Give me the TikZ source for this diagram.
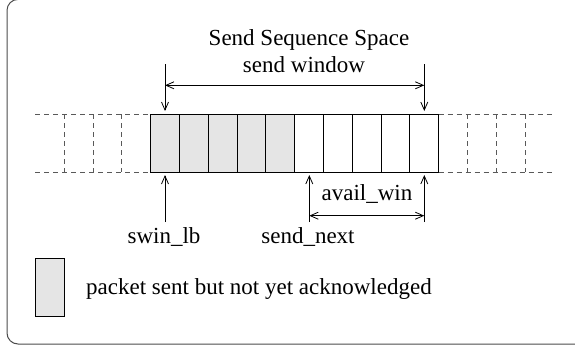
\documentclass[tikz,border=0pt]{standalone}
\usepackage{fontspec}
\setmainfont{Liberation Serif}
\usetikzlibrary{arrows.meta}
\begin{document}
\begin{tikzpicture}[x=1pt,y=-1pt,
  cell/.style={draw, line width=0.9pt, minimum width=28.8pt, minimum height=58pt, inner sep=0pt, outer sep=0pt, anchor=north west},
  sentcell/.style={cell, fill=gray!20},
  dline/.style={dash pattern=on 5pt off 4pt, line width=0.9pt, gray!70!black},
  tip/.tip={Straight Barb[length=8pt,width=7pt]},
  arr/.style={line width=0.8pt, -tip},
  darr/.style={line width=0.8pt, tip-tip},
  lbl/.style={font=\fontsize{23}{28}\selectfont, inner sep=0pt, anchor=base}
]
\useasboundingbox (0,0) rectangle (575,349);
\begin{scope}
\clip (0,0) rectangle (575,349);
\draw[rounded corners=11pt, line width=1pt, gray!60!black] (7,-0.6) rectangle (590,344);
\end{scope}
% cells
\foreach \i in {0,...,4} \node[sentcell] (c\i) at ({150.7+28.8*\i},114) {};
\foreach \i in {5,...,9} \node[cell] (c\i) at ({150.7+28.8*\i},114) {};
% dashed continuation
\coordinate (lt) at (35,114);
\coordinate (lb) at (35,172);
\coordinate (rt) at (554,114);
\coordinate (rb) at (554,172);
\draw[dline] (lt) -- (c0.north west);
\draw[dline] (lb) -- (c0.south west);
\draw[dline] (c9.north east) -- (rt);
\draw[dline] (c9.south east) -- (rb);
\foreach \x in {64.3,93.1,121.9,467.5,496.3,525.1}
  \draw[dline] (\x,114) -- (\x,172);
% labels
\node[lbl] (title) at (309,45) {Send Sequence Space};
\node[lbl] (win) at (304,72.5) {send window};
\node[lbl] (swin) at (164,243.5) {swin\_lb};
\node[lbl] (snext) at (308,243.5) {send\_next};
\node[lbl] (avail) at (367,200.5) {avail\_win};
\node[lbl, anchor=base west] (legtext) at (86,294) {packet sent but not yet acknowledged};
\node[draw, line width=0.9pt, fill=gray!20, minimum width=29.3pt, minimum height=57.7pt, inner sep=0pt, anchor=north west] (legbox) at (35,258.3) {};
% send window arrows
\coordinate (wla) at (165,64);
\coordinate (wlb) at (165,111);
\coordinate (wra) at (424.3,64);
\coordinate (wrb) at (424.3,111);
\coordinate (wlh) at (165,85.3);
\coordinate (wrh) at (424.3,85.3);
\draw[arr] (wla) -- (wlb);
\draw[arr] (wra) -- (wrb);
\draw[darr] (wlh) -- (wrh);
% lower arrows
\coordinate (sla) at (165,222);
\coordinate (slb) at (165,175);
\coordinate (ana) at (309.3,222);
\coordinate (anb) at (309.3,175);
\coordinate (ara) at (424.3,222);
\coordinate (arb) at (424.3,175);
\coordinate (alh) at (309.3,215.7);
\coordinate (arh) at (424.3,215.7);
\draw[arr] (sla) -- (slb);
\draw[arr] (ana) -- (anb);
\draw[arr] (ara) -- (arb);
\draw[darr] (alh) -- (arh);
\end{tikzpicture}
\end{document}
